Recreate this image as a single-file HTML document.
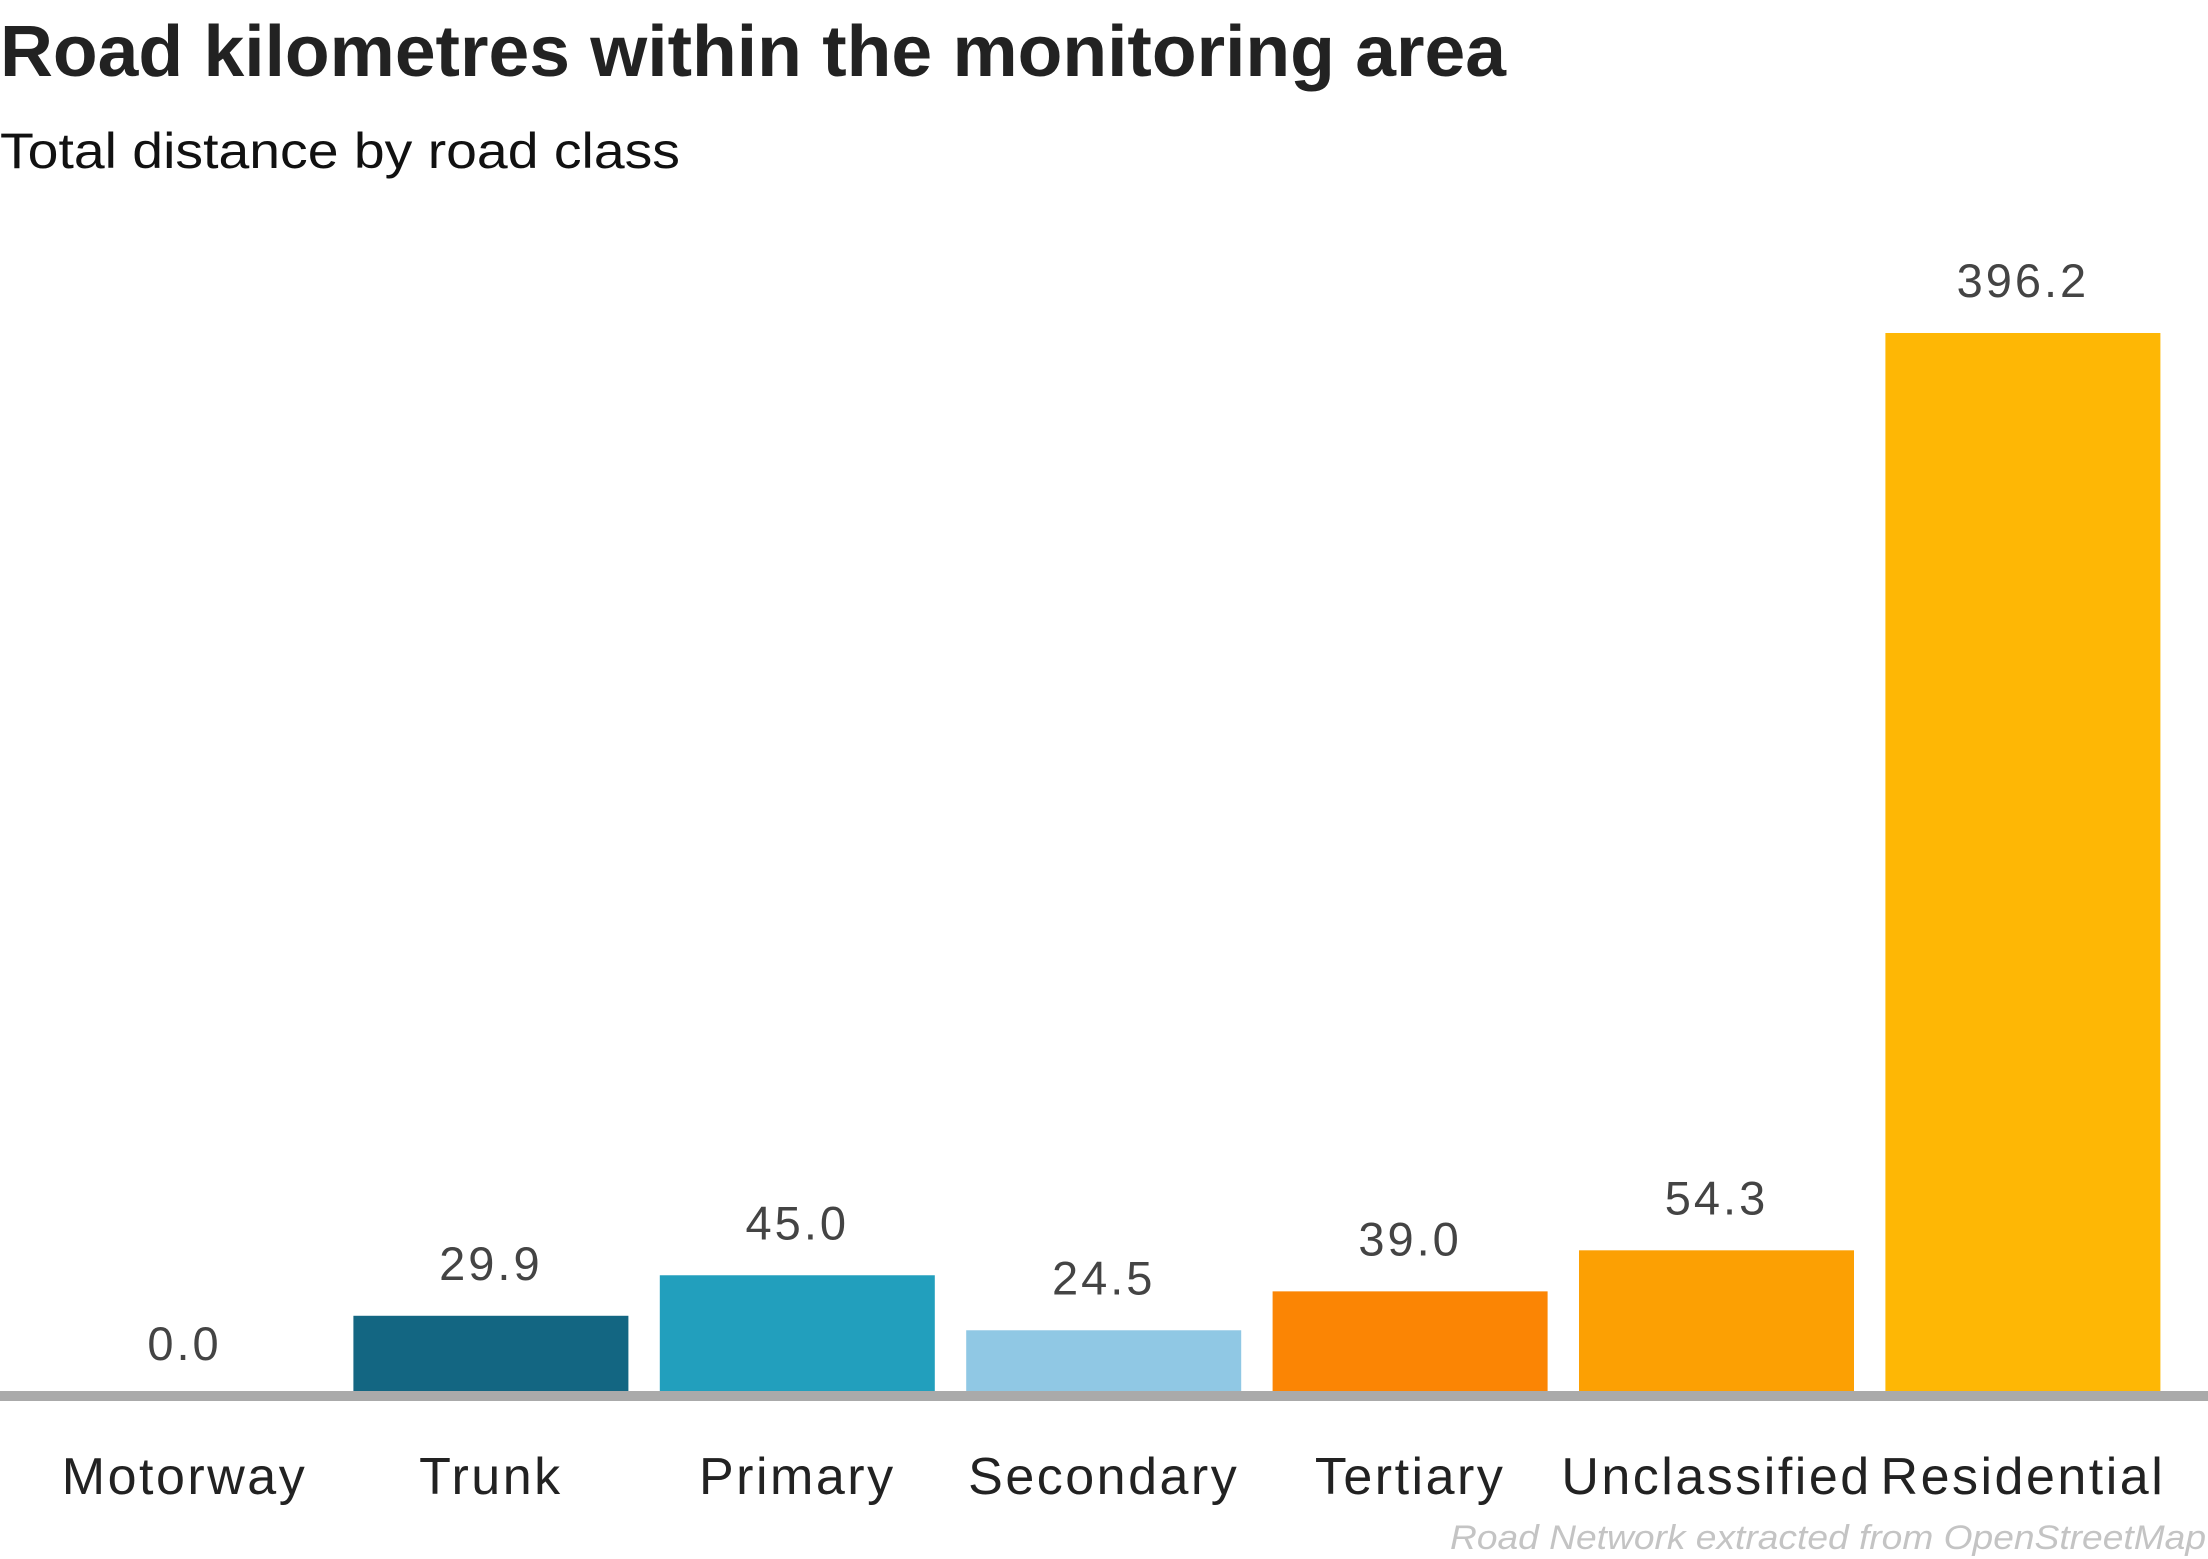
<!DOCTYPE html>
<html><head><meta charset="utf-8"><style>
body{margin:0;background:#fff;}
svg{display:block;}
</style></head><body>
<svg id="chart" width="2208" height="1559" xmlns="http://www.w3.org/2000/svg">
<text x="0" y="76" font-family="Liberation Sans, sans-serif" font-weight="bold" font-size="72" fill="#222" textLength="1506" lengthAdjust="spacingAndGlyphs">Road kilometres within the monitoring area</text>
<text x="0" y="168" font-family="Liberation Sans, sans-serif" font-size="50" fill="#111" textLength="680" lengthAdjust="spacingAndGlyphs">Total distance by road class</text>
<g id="bars"></g>
<rect x="0" y="1391" width="2208" height="10" fill="#aaaaaa"></rect>
<g id="labels"></g>
<text x="2206" y="1549" text-anchor="end" font-family="Liberation Sans, sans-serif" font-style="italic" font-size="34" fill="#c4c4c4" textLength="756" lengthAdjust="spacingAndGlyphs">Road Network extracted from OpenStreetMap</text>
</svg>
<script>
const categories = ["Motorway","Trunk","Primary","Secondary","Tertiary","Unclassified","Residential"];
const values = [0.0, 29.9, 45.0, 24.5, 39.0, 54.3, 396.2];
const valueLabels = ["0.0","29.9","45.0","24.5","39.0","54.3","396.2"];
const colors = ["#1f4e79","#136682","#229fbd","#90c8e4","#fb8504","#fca003","#feb705"];

const NS = "http://www.w3.org/2000/svg";
const baseY = 1396, pxPerUnit = 1063/396.2;
const x0 = 184.5, step = 306.4, barW = 275;
function xPos(i){ return x0 + i*step; }
function yPos(v){ return baseY - v*pxPerUnit; }
const gb = document.getElementById('bars'), gl = document.getElementById('labels');
categories.forEach((c,i)=>{
  const v = values[i], cx = xPos(i), top = yPos(v);
  if (v > 0) {
    const r = document.createElementNS(NS,'rect');
    r.setAttribute('x', cx - barW/2); r.setAttribute('y', top);
    r.setAttribute('width', barW); r.setAttribute('height', baseY - top);
    r.setAttribute('fill', colors[i]);
    
    
    gb.appendChild(r);
  }
  const t = document.createElementNS(NS,'text');
  t.setAttribute('x', cx); t.setAttribute('y', top - 36);
  t.setAttribute('text-anchor','middle');
  t.setAttribute('font-family','Liberation Sans, sans-serif');
  t.setAttribute('font-size','47'); t.setAttribute('letter-spacing','3'); t.setAttribute('fill','#444');
  t.textContent = valueLabels[i];
  
  
  gl.appendChild(t);
  const k = document.createElementNS(NS,'text');
  k.setAttribute('x', cx); k.setAttribute('y', 1494);
  k.setAttribute('text-anchor','middle');
  k.setAttribute('font-family','Liberation Sans, sans-serif');
  k.setAttribute('font-size','52'); k.setAttribute('letter-spacing','2.5'); k.setAttribute('fill','#222');
  k.textContent = c;
  
  
  gl.appendChild(k);
});
</script>
</body></html>
